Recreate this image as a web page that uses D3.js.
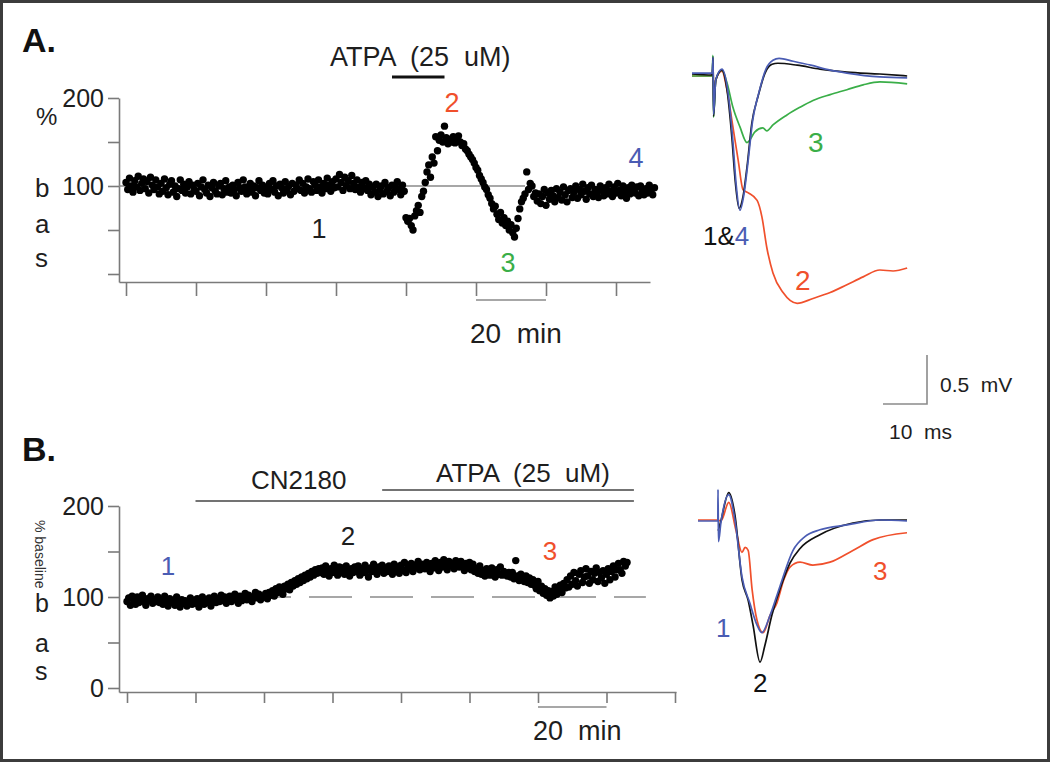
<!DOCTYPE html>
<html><head><meta charset="utf-8">
<script src="https://cdn.jsdelivr.net/npm/d3@7/dist/d3.min.js"></script>
<style>
html,body{margin:0;padding:0;background:#fff;}
svg text{font-family:"Liberation Sans",Arial,sans-serif;white-space:pre;}
</style></head>
<body>
<svg id="fig" width="1050" height="762"></svg>
<script>
// ---------- DATA ----------
// Panel A: % baseline, one sample every 0.5 min
const stepA = 0.5;
const valuesA = [
104,96,109,100,93,106,99,111,95,103,108,97,105,92,110,101,96,107,99,91,
103,94,108,98,90,102,106,93,100,88,97,107,95,102,92,99,105,91,101,96,
94,103,89,99,107,96,92,101,88,98,104,94,91,100,103,90,97,106,93,99,
92,101,96,89,104,98,94,107,99,91,96,103,93,100,89,98,106,95,101,92,
98,91,103,96,106,93,100,89,102,98,92,105,96,100,90,103,94,101,97,107,
95,103,92,99,108,97,93,105,101,95,107,99,92,103,97,109,101,94,105,98,
108,99,113,104,95,110,100,106,97,112,103,96,107,99,93,104,98,106,95,102,
90,99,93,102,88,96,100,91,104,94,98,89,101,93,99,105,96,90,101,94,
64,60,63,55,50,66,72,78,70,88,94,104,116,124,110,133,126,156,140,152,
158,150,168,155,148,153,150,156,149,152,157,150,
146,148,142,140,136,133,130,126,121,118,112,108,104,99,96,90,86,80,74,77,
68,62,70,58,64,55,60,50,56,47,42,52,
63,74,82,86,91,116,96,103,100,88,
92,83,91,80,88,96,78,92,85,95,89,82,97,87,93,84,99,90,82,95,
97,87,93,100,86,96,90,102,94,85,98,91,101,88,96,93,87,100,95,89,
98,91,102,94,88,99,92,103,95,89,100,93,86,98,91,101,96,92,99,89,
100,94,90,97,92,101,95,90,98
];
// Panel B: % baseline, one sample every 0.5 min
const stepB = 0.5;
const valuesB = [
95,99,91,101,96,92,100,94,97,102,95,91,98,96,101,93,97,95,100,94,
97,92,101,95,90,98,94,96,91,100,95,89,97,93,96,90,94,99,92,95,
93,98,89,95,100,92,96,94,99,90,97,101,94,98,95,102,96,100,93,97,
101,95,98,103,97,93,101,96,99,104,97,102,98,95,100,105,99,103,97,101,
100,104,98,105,102,107,101,109,105,111,107,103,112,109,114,108,116,112,118,114,
120,116,122,118,124,120,126,122,128,124,130,126,131,127,
132,125,134,128,123,131,127,135,129,124,133,128,132,125,134,129,123,131,127,133,
128,134,124,131,127,135,129,122,132,128,136,130,125,133,129,135,126,132,128,134,
130,125,136,129,133,126,135,130,138,127,134,131,137,128,135,132,139,130,136,133,
131,138,133,128,137,132,140,134,129,138,133,141,135,130,139,134,137,131,140,135,
133,139,134,129,137,132,138,130,136,128,
131,126,134,125,129,123,131,128,124,132,127,122,130,125,133,124,128,126,123,127,
122,127,120,140,123,118,125,121,117,123,116,121,114,119,
113,109,117,107,112,104,109,102,107,99,106,101,111,103,108,113,105,115,110,
119,111,123,114,127,118,112,125,129,116,122,131,123,115,128,119,126,132,117,127,
121,129,115,125,131,119,128,134,122,130,137,130,126,139,134,138
];
// drug application periods (min)
const atpaA = [76, 91];
const cn2180B = [20, 148];
const atpaB = [74.5, 148];
// time scale bars (min)
const barA = [100, 120];
const barB = [120, 140];
const xTicksA = [0,20,40,60,80,100,120,140];
const xTicksB = [0,20,40,60,80,100,120,140,160];
const yTicksA = [0,50,100,150,200];
const yLabelsA = [100,200];
const yTicksB = [0,50,100,150,200];
const yLabelsB = [0,100,200];

// Field potential traces: [ms, mV]
const traceA1 = [[0,0.01],[4.6,0.0],[4.8,0.18],[4.9,-0.42],[5.4,-0.05],[6.8,0.05],[7.95,-0.15],[9.1,-0.66],[9.8,-1.07],[10.7,-1.36],[11.6,-1.24],[12.5,-0.94],[13.6,-0.49],[15,-0.22],[16.6,0.02],[18.2,0.11],[19.5,0.12],[23.9,0.1],[29.1,0.06],[35.2,0.03],[42.7,0.01],[48.9,-0.01]];
const traceA4 = [[0,0.02],[4.6,0.02],[4.8,0.18],[4.9,-0.4],[5.4,-0.05],[6.8,0.06],[8.1,-0.15],[9.3,-0.68],[10.0,-1.1],[10.9,-1.38],[11.8,-1.22],[12.7,-0.9],[13.8,-0.46],[15.2,-0.18],[16.8,0.06],[18.4,0.15],[19.8,0.17],[23,0.14],[27,0.1],[31.4,0.05],[35.2,0.02],[42.7,-0.02],[48.9,-0.03]];
const traceA3 = [[0,-0.01],[4.6,-0.01],[4.75,0.2],[4.9,-0.43],[5.4,-0.05],[6.8,0.05],[7.95,-0.08],[9.3,-0.33],[10.9,-0.53],[12.5,-0.69],[13.2,-0.66],[14.3,-0.58],[16.1,-0.54],[17,-0.57],[18.4,-0.51],[21.5,-0.41],[24.5,-0.33],[27.5,-0.26],[31.4,-0.2],[35.2,-0.15],[38.9,-0.1],[42.7,-0.07],[48.9,-0.09]];
const traceA2 = [[0,-0.01],[4.6,-0.01],[4.8,0.1],[4.9,-0.3],[5.4,-0.05],[6.8,0.04],[7.95,-0.15],[9.3,-0.53],[10.5,-0.87],[11.6,-1.17],[12.7,-1.2],[14.8,-1.28],[15.9,-1.45],[17,-1.76],[18.4,-2.02],[20.7,-2.22],[23.9,-2.33],[27.5,-2.28],[31.4,-2.22],[35.2,-2.14],[38.9,-2.06],[42.7,-1.99],[45.7,-2.0],[48.9,-1.97]];
const traceB1 = [[0,0],[4.5,0],[4.55,0.32],[4.65,-0.21],[5.2,-0.02],[7,0.27],[8.4,0.01],[10,-0.57],[11.8,-0.84],[13.4,-1.06],[14.5,-1.14],[16.4,-0.96],[18.6,-0.67],[21.6,-0.3],[24.3,-0.16],[27.7,-0.09],[33.9,-0.04],[41.4,0.01],[47.5,0]];
const traceB2 = [[4.6,-0.1],[5.2,0.0],[7,0.29],[8.4,0.06],[10,-0.6],[11.4,-0.81],[12.5,-1.06],[14.1,-1.44],[15.2,-1.27],[16.8,-0.96],[18.6,-0.7],[20.9,-0.43],[23.2,-0.28],[27.7,-0.14],[35.2,-0.02],[41.4,0.01],[47.5,0.01]];
const traceB3 = [[0,0.01],[4.5,0.01],[5.2,0.0],[7,0.19],[8.6,-0.09],[10,-0.32],[10.7,-0.27],[11.4,-0.3],[12.3,-0.7],[13.4,-1.01],[14.8,-1.14],[16.4,-0.96],[17.9,-0.84],[19.5,-0.6],[20.9,-0.47],[23.2,-0.42],[26.1,-0.45],[30,-0.42],[35.2,-0.3],[39.8,-0.19],[47.5,-0.12]];
const scaleBarMs = 10, scaleBarMv = 0.5;

// ---------- DRAW ----------
const svg = d3.select("#fig");
const C = {black:"#111", red:"#f0502c", blue:"#4a5cb3", green:"#3aae48", axis:"#7a7a7a", text:"#1e1e1e"};

svg.append("rect").attr("x",1.5).attr("y",1.5).attr("width",1047).attr("height",759)
  .attr("fill","#fff").attr("stroke","#3c3c3c").attr("stroke-width",3);

function txt(x,y,s,size,color,anchor,weight){
  return svg.append("text").attr("x",x).attr("y",y).text(s)
    .attr("font-size",size).attr("fill",color||C.text)
    .attr("text-anchor",anchor||"start").attr("font-weight",weight||"normal");
}

function timePanel(o){
  const x = d3.scaleLinear().domain([0,20]).range(o.x0);
  const y = d3.scaleLinear().domain([0,200]).range(o.y0);
  const g = svg.append("g");
  const xa = x.copy().domain([x.invert(o.xAxisRange[0]), x.invert(o.xAxisRange[1])]).range(o.xAxisRange);
  const gx = g.append("g").attr("transform",`translate(0,${o.xAxisY})`)
    .call(d3.axisBottom(xa).tickValues(o.xTicks).tickSize(o.xTickLen).tickSizeOuter(0).tickFormat(""));
  const ya = y.copy().domain([y.invert(o.xAxisY), 200]).range([o.xAxisY, y(200)]);
  const gy = g.append("g").attr("transform",`translate(${o.yAxisX},0)`)
    .call(d3.axisLeft(ya).tickValues(o.yTicks).tickSize(11).tickSizeOuter(0).tickPadding(4)
      .tickFormat(d => o.yLabels.includes(d) ? d : ""));
  [gx,gy].forEach(a=>{
    a.selectAll("path,line").attr("stroke",C.axis).attr("stroke-width",1.6);
    a.selectAll("text").attr("font-size",25).attr("fill",C.text).attr("font-family","Liberation Sans, Arial, sans-serif");
  });
  const ref = g.append("line").attr("x1",o.yAxisX).attr("x2",x(o.refEnd))
    .attr("y1",y(100)).attr("y2",y(100)).attr("stroke","#8a8a8a").attr("stroke-width",1.6);
  if(o.dashed) ref.attr("stroke-dasharray","43,18").attr("stroke-dashoffset",54);
  g.append("g").selectAll("circle").data(o.values).join("circle")
    .attr("cx",(d,i)=>x(i*o.step)).attr("cy",d=>y(d)).attr("r",3.7).attr("fill","#000");
  g.append("line").attr("x1",x(o.bar[0])).attr("x2",x(o.bar[1]))
    .attr("y1",o.barY).attr("y2",o.barY).attr("stroke","#8a8a8a").attr("stroke-width",1.6);
  return {x,y};
}

// ----- Panel A -----
txt(22,52,"A.",34,"#111","start","bold");
const A = timePanel({x0:[126,196], y0:[274,98], xAxisRange:[119,650], xAxisY:282, xTickLen:14,
  yAxisX:119, xTicks:xTicksA, yTicks:yTicksA, yLabels:yLabelsA, values:valuesA, step:stepA,
  refEnd:114, dashed:false, bar:barA, barY:300});
txt(330,66,"ATPA  (25  uM)",27);
svg.append("line").attr("x1",A.x(atpaA[0])).attr("x2",A.x(atpaA[1])).attr("y1",77).attr("y2",77)
  .attr("stroke","#111").attr("stroke-width",3.2);
txt(36,125,"%",24); txt(35,197,"b",26); txt(35,233,"a",26); txt(35,267,"s",26);
txt(452,112,"2",27,C.red,"middle");
txt(636,167,"4",27,C.blue,"middle");
txt(319,238,"1",27,C.text,"middle");
txt(508,272,"3",27,C.green,"middle");
txt(470,343,"20  min",28);

// ----- Panel B -----
txt(22,461,"B.",34,"#111","start","bold");
const B = timePanel({x0:[127,195.5], y0:[688,506], xAxisRange:[119,676], xAxisY:692, xTickLen:11,
  yAxisX:119, xTicks:xTicksB, yTicks:yTicksB, yLabels:yLabelsB, values:valuesB, step:stepB,
  refEnd:151.5, dashed:true, bar:barB, barY:707});
txt(251,489,"CN2180",26);
svg.append("line").attr("x1",B.x(cn2180B[0])).attr("x2",B.x(cn2180B[1])).attr("y1",501).attr("y2",501)
  .attr("stroke","#444").attr("stroke-width",1.6);
svg.append("line").attr("x1",B.x(atpaB[0])).attr("x2",B.x(atpaB[1])).attr("y1",490).attr("y2",490)
  .attr("stroke","#444").attr("stroke-width",1.6);
txt(436,482,"ATPA  (25  uM)",26);
svg.append("text").attr("transform","translate(35,520) rotate(90)").text("% baseline")
  .attr("font-size",14).attr("fill","#333");
txt(35,612,"b",25); txt(35,652,"a",25); txt(35,680,"s",25);
txt(168,575,"1",26,C.blue,"middle");
txt(348,545,"2",26,C.text,"middle");
txt(550,560,"3",26,C.red,"middle");
txt(533,740,"20  min",27);

// ----- Traces -----
function traces(x0, y0, list){
  const x = d3.scaleLinear().domain([0,10]).range([x0, x0+44]);
  const y = d3.scaleLinear().domain([0,0.5]).range([y0, y0-49]);
  const line = d3.line().x(d=>x(d[0])).y(d=>y(d[1])).curve(d3.curveMonotoneX);
  list.forEach(([data,color])=>{
    svg.append("path").attr("d",line(data)).attr("fill","none").attr("stroke",color)
      .attr("stroke-width",1.7).attr("stroke-linejoin","round");
  });
  return {x,y};
}
const TA = traces(692, 75, [[traceA2,C.red],[traceA3,C.green],[traceA1,C.black],[traceA4,C.blue]]);
txt(808,152,"3",28,C.green);
const t14 = svg.append("text").attr("x",703).attr("y",245).attr("font-size",26);
t14.append("tspan").text("1&").attr("fill","#111");
t14.append("tspan").text("4").attr("fill",C.blue);
txt(795,290,"2",28,C.red);

const TB = traces(698, 521, [[traceB3,C.red],[traceB2,C.black],[traceB1,C.blue]]);
txt(716,637,"1",26,C.blue);
txt(753,692,"2",26,"#111");
txt(873,580,"3",26,C.red);

const sbx = 927, sby = 404;
const sbW = TA.x(scaleBarMs)-TA.x(0), sbH = TA.y(0)-TA.y(scaleBarMv);
svg.append("path").attr("d",`M${sbx-sbW},${sby}H${sbx}V${sby-sbH}`).attr("fill","none")
  .attr("stroke","#8a8a8a").attr("stroke-width",1.6);
txt(940,392,"0.5  mV",21);
txt(889,439,"10  ms",21);
</script>
</body></html>
